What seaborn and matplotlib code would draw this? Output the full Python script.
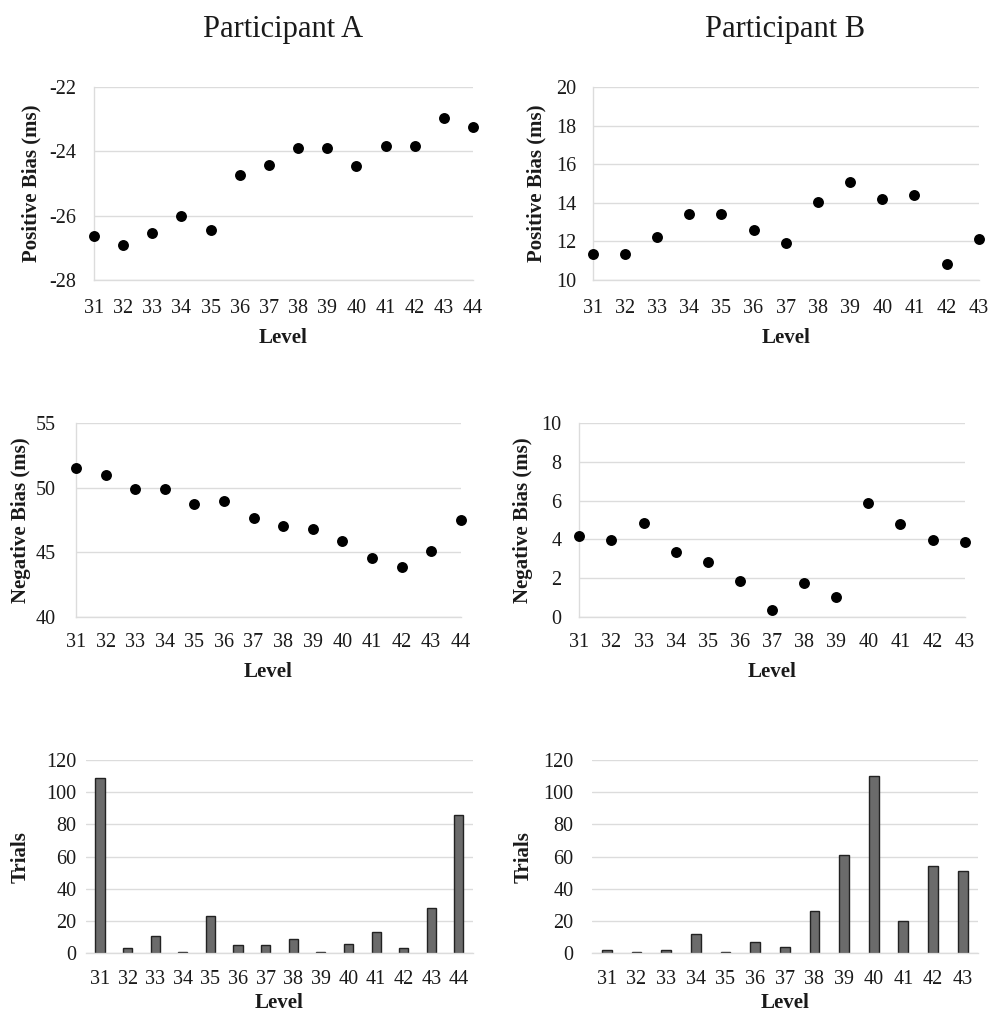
import numpy as np
import pandas as pd
import matplotlib
matplotlib.use("Agg")
import matplotlib.pyplot as plt
import seaborn as sns

# ---------------- data ----------------
levels_a = [31, 32, 33, 34, 35, 36, 37, 38, 39, 40, 41, 42, 43, 44]
levels_b = [31, 32, 33, 34, 35, 36, 37, 38, 39, 40, 41, 42, 43]

pos_bias_a = [-26.63, -26.92, -26.54, -26.00, -26.44, -24.74, -24.41,
              -23.91, -23.91, -24.46, -23.83, -23.83, -22.97, -23.23]
pos_bias_b = [11.36, 11.36, 12.22, 13.43, 13.43, 12.57, 11.91,
              14.05, 15.07, 14.19, 14.38, 10.84, 12.14]

neg_bias_a = [51.53, 50.97, 49.91, 49.91, 48.74, 48.97, 47.63,
              47.06, 46.80, 45.90, 44.53, 43.88, 45.12, 47.50]
neg_bias_b = [4.17, 3.98, 4.86, 3.33, 2.83, 1.83, 0.33,
              1.74, 1.02, 5.86, 4.79, 3.98, 3.84]

trials_a = [109, 3, 11, 1, 23, 5, 5, 9, 1, 6, 13, 3, 28, 86]
trials_b = [2, 1, 2, 12, 1, 7, 4, 26, 61, 110, 20, 54, 51]

titles = ["Participant A", "Participant B"]

# ---------------- style ----------------
sns.set_theme(style="white")
plt.rcParams["font.family"] = ["Liberation Serif", "DejaVu Serif"]
plt.rcParams["axes.unicode_minus"] = False

GRID = "#dcdcdc"
TICK_FS = 14.5
LAB_FS = 15

fig = plt.figure(figsize=(9.89, 10.15), dpi=100)
W, H = 989, 1015


def add_axes(x0, x1, y0, y1):
    return fig.add_axes([x0 / W, 1 - y1 / H, (x1 - x0) / W, (y1 - y0) / H])


def style_common(ax, ylim, yticks, ylabel, ypad, ylab_x, xpad, xlabpad):
    ax.set_ylim(*ylim)
    ax.set_yticks(yticks)
    ax.grid(axis="y", color=GRID, linewidth=1.0)
    ax.grid(axis="x", visible=False)
    ax.set_axisbelow(True)
    for s in ["top", "right"]:
        ax.spines[s].set_visible(False)
    ax.tick_params(axis="both", length=0, labelsize=TICK_FS, colors="#1a1a1a")
    ax.tick_params(axis="y", pad=ypad)
    ax.tick_params(axis="x", pad=xpad)
    ax.set_ylabel(ylabel, fontsize=LAB_FS, fontweight="bold", color="#1a1a1a")
    ax.yaxis.set_label_coords(ylab_x, 0.5)
    ax.set_xlabel("Level", fontsize=LAB_FS, fontweight="bold", color="#1a1a1a",
                  labelpad=xlabpad)


def scatter_panel(ax, levels, vals, ylim, yticks, ylabel, ypad, ylab_x, xpad):
    df = pd.DataFrame({"Level": levels, "v": vals})
    sns.scatterplot(data=df, x="Level", y="v", ax=ax, color="black", s=62,
                    linewidth=0, zorder=3, clip_on=False)
    ax.set_xlim(levels[0], levels[-1])
    ax.set_xticks(levels)
    ax.set_xticklabels([str(l) for l in levels])
    style_common(ax, ylim, yticks, ylabel, ypad, ylab_x, xpad, 7)
    ax.spines["left"].set_color(GRID)
    ax.spines["bottom"].set_color(GRID)
    ax.spines["left"].set_linewidth(1.0)
    ax.spines["bottom"].set_linewidth(1.0)


def bar_panel(ax, levels, vals, ypad, ylab_x, xpad):
    df = pd.DataFrame({"Level": [str(l) for l in levels], "Trials": vals})
    sns.barplot(data=df, x="Level", y="Trials", ax=ax, color="#6b6b6b",
                edgecolor="#222222", linewidth=1.0, width=0.33, saturation=1)
    style_common(ax, (0, 120), np.arange(0, 121, 20), "Trials", ypad, ylab_x, xpad, 3)
    ax.spines["left"].set_visible(False)
    ax.spines["bottom"].set_color(GRID)
    ax.spines["bottom"].set_linewidth(1.0)


# Row 1
ax1 = add_axes(94, 473, 87, 280)
scatter_panel(ax1, levels_a, pos_bias_a, (-28, -22), [-28, -26, -24, -22],
              "Positive Bias (ms)", 13, -0.138, 14)
ax2 = add_axes(592.7, 978.7, 87, 280)
scatter_panel(ax2, levels_b, pos_bias_b, (10, 20), np.arange(10, 21, 2),
              "Positive Bias (ms)", 12, -0.119, 14)

# Row 2
ax3 = add_axes(76, 460.7, 423.3, 616.7)
scatter_panel(ax3, levels_a, neg_bias_a, (40, 55), [40, 45, 50, 55],
              "Negative Bias (ms)", 14.5, -0.118, 12)
ax4 = add_axes(579.3, 964.7, 423.3, 616.7)
scatter_panel(ax4, levels_b, neg_bias_b, (0, 10), np.arange(0, 11, 2),
              "Negative Bias (ms)", 12.7, -0.119, 12)

# Row 3
ax5 = add_axes(86.2, 472.7, 760, 953.3)
bar_panel(ax5, levels_a, trials_a, 7, -0.145, 12)
ax6 = add_axes(592, 977.5, 760, 953.3)
bar_panel(ax6, levels_b, trials_b, 13.5, -0.152, 12)

fig.text(283 / W, 1 - 30 / H, titles[0], ha="center", va="center", fontsize=22, color="#1a1a1a")
fig.text(785 / W, 1 - 30 / H, titles[1], ha="center", va="center", fontsize=22, color="#1a1a1a")

fig.savefig("out.png", dpi=100, facecolor="white")
